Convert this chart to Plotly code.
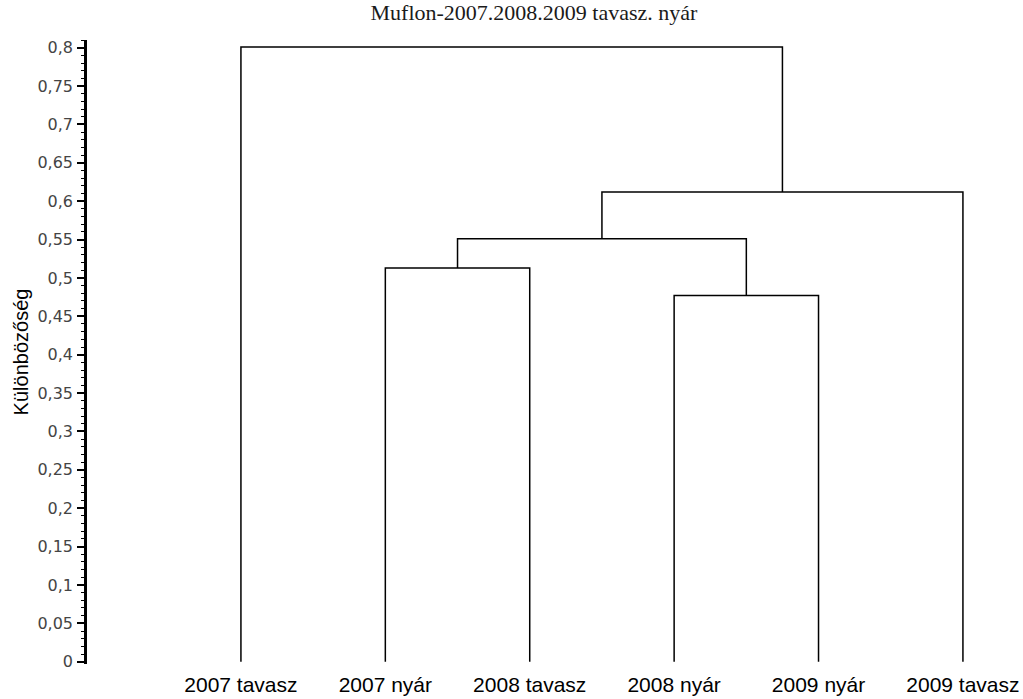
import plotly.graph_objects as go

leaves = ["2007 tavasz", "2007 nyár", "2008 tavasz", "2008 nyár", "2009 nyár", "2009 tavasz"]
# merges: (left node, right node, height); nodes 0..5 leaves, 6.. merged clusters
merge_left = [3, 1, 7, 8, 0]
merge_right = [4, 2, 6, 5, 9]
merge_height = [0.477, 0.513, 0.551, 0.612, 0.801]
ytick_vals = [i * 0.05 for i in range(17)]
ytick_text = ["0", "0,05", "0,1", "0,15", "0,2", "0,25", "0,3", "0,35", "0,4",
              "0,45", "0,5", "0,55", "0,6", "0,65", "0,7", "0,75", "0,8"]

pos = {i: float(i) for i in range(len(leaves))}
hgt = {i: 0.0 for i in range(len(leaves))}
xs, ys = [], []
for k, (a, b, h) in enumerate(zip(merge_left, merge_right, merge_height)):
    node = len(leaves) + k
    xs += [pos[a], pos[a], pos[b], pos[b], None]
    ys += [hgt[a], h, h, hgt[b], None]
    pos[node] = (pos[a] + pos[b]) / 2
    hgt[node] = h

fig = go.Figure()
fig.add_trace(go.Scatter(x=xs, y=ys, mode="lines",
                         line=dict(color="black", width=1.5),
                         hoverinfo="skip", showlegend=False))

fig.update_layout(
    width=1023, height=699,
    margin=dict(l=87, r=0, t=40, b=35),
    plot_bgcolor="white", paper_bgcolor="white",
    title=dict(text="Muflon-2007.2008.2009 tavasz. nyár", x=0.522, xanchor="center",
               xref="container", y=0.982, yanchor="middle",
               font=dict(family="Liberation Serif", size=22, color="#1a1a1a")),
    xaxis=dict(range=[-1.066, 5.416], tickvals=list(range(len(leaves))), ticktext=leaves,
               showgrid=False, zeroline=False, showline=False, ticks="",
               automargin=False, ticklabelstandoff=6,
               tickfont=dict(family="Liberation Sans", size=21, color="black")),
    yaxis=dict(range=[-0.003, 0.81], tickvals=ytick_vals, ticktext=ytick_text,
               showgrid=False, zeroline=False, showline=True, linecolor="black",
               linewidth=2.5, ticks="outside", ticklen=7, tickwidth=1.5, tickcolor="black",
               minor=dict(ticks="outside", dtick=0.01, tick0=0, ticklen=3,
                          tickcolor="black", tickwidth=1),
               automargin=False, ticklabelstandoff=1,
               tickfont=dict(family="DejaVu Sans", size=16, color="#444"),
               title=dict(text="Különbözőség", standoff=4,
                          font=dict(family="Liberation Sans", size=20, color="black"))),
)

fig.write_html("out.html")
